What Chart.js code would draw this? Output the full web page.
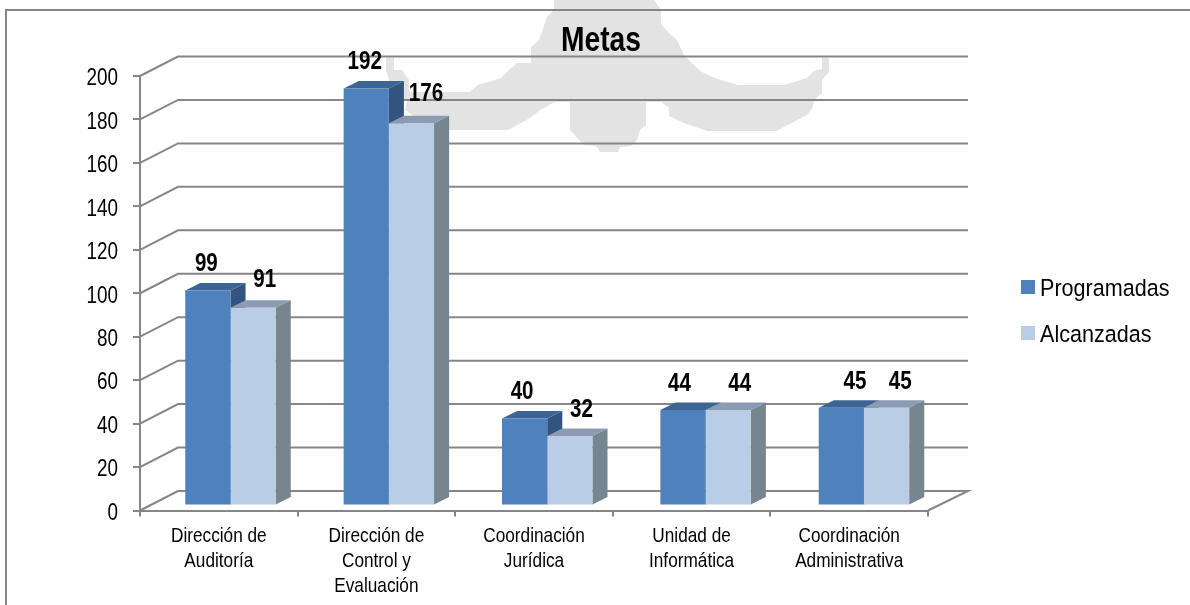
<!DOCTYPE html>
<html lang="es">
<head>
    <meta charset="UTF-8">
    <title>Metas</title>
    <script src="https://cdn.jsdelivr.net/npm/chart.js"></script>
    <style>
        html, body { margin: 0; padding: 0; background: #fff; overflow: hidden; }
        #watermark, #frame, #metasChart { position: absolute; left: 0; top: 0; }
        #frame { left: 5px; top: 9px; width: 1185px; height: 596px; border-top: 2px solid #868686; border-left: 2px solid #868686; box-sizing: border-box; }
    </style>
</head>
<body>
    <!-- faded emblem behind the chart -->
    <svg id="watermark" width="1190" height="605">
        <polygon fill="#e3e3e3" points="554,0 654,0 661,10 661,24 668,32 677,40 684,55 692,63 700,71 715,78 738,85 784,85 807,78 814,71 822,69 822,58 829,58 829,72 822,80 822,93 814,100 813,107 807,115 792,123 776,131 707,131 684,123 669,116 669,108 661,102 646,102 646,125 640,130 637,140 631,146 620,147 618,152 600,152 596,146 585,145 577,138 570,130 570,102 555,102 540,110 530,118 508,130 434,130 405,110 409,92 470,92 478,85 501,78 509,70 517,63 531,63 531,47 539,40 547,17 554,10"/>
        <polygon fill="#e3e3e3" points="386,58 394,58 394,70 402,70 409,80 409,100 395,100 386,70"/>
    </svg>
    <div id="frame"></div>
    <canvas id="metasChart" width="1190" height="605"></canvas>

    <script>
        const categories = [
            ['Dirección de', 'Auditoría'],
            ['Dirección de', 'Control y', 'Evaluación'],
            ['Coordinación', 'Jurídica'],
            ['Unidad de', 'Informática'],
            ['Coordinación', 'Administrativa']
        ];
        const programadas = [99, 192, 40, 44, 45];
        const alcanzadas = [91, 176, 32, 44, 45];

        // nudges of the value labels, from the picture
        const programadasLabelDx = [-1, -1, -2, -3, 14];
        const alcanzadasLabelDx = [12, 15, 12, 12, 14];
        const alcanzadasLabelDy = [-2, -3, 0, 0, 0];

        const sans = "'Liberation Sans', Arial, sans-serif";
        const textSqueeze = 0.82; // the reference text is a narrow Arial
        const legendSqueeze = 0.88;
        const gridColor = '#868686';
        const wallDepthLeft = 38, wallDepthRight = 40, wallRise = 19.5;
        const barDepth = 15, barRise = 7.5;
        const faceColors = [
            { top: '#3c6494', side: '#32547f' },
            { top: '#8a9bb3', side: '#77858f' }
        ];

        function squeezedText(ctx, text, x, y, squeeze = textSqueeze) {
            ctx.fillText(text, x, y, ctx.measureText(text).width * squeeze);
        }

        const fake3d = {
            id: 'fake3d',
            afterLayout(chart) {
                // title sits right of the plot centre in the picture
                chart.titleBlock.left = 561;
                chart.titleBlock.right = 641;
            },
            beforeDatasetsDraw(chart) {
                const { ctx, chartArea, scales } = chart;
                // back wall and side wall lines
                ctx.save();
                ctx.strokeStyle = gridColor;
                ctx.lineWidth = 2;
                scales.y.ticks.forEach(tick => {
                    const y = scales.y.getPixelForValue(tick.value);
                    ctx.beginPath();
                    ctx.moveTo(chartArea.left, y);
                    ctx.lineTo(chartArea.left + wallDepthLeft, y - wallRise);
                    ctx.lineTo(chartArea.right + wallDepthRight, y - wallRise);
                    if (tick.value === 0) ctx.lineTo(chartArea.right, y);
                    ctx.stroke();
                });
                ctx.restore();

                // bars stand a little inside the floor and drift right of the axis ticks
                ctx.save();
                ctx.transform(1.0049, 0, 0, 1, 10.6, -5);
                chart.data.datasets.forEach((ds, i) => {
                    chart.getDatasetMeta(i).data.forEach(bar => {
                        const left = bar.x - bar.width / 2;
                        const right = bar.x + bar.width / 2;
                        ctx.fillStyle = faceColors[i].side;
                        ctx.beginPath();
                        ctx.moveTo(right, bar.y);
                        ctx.lineTo(right + barDepth, bar.y - barRise);
                        ctx.lineTo(right + barDepth, bar.base - barRise);
                        ctx.lineTo(right, bar.base);
                        ctx.fill();
                        ctx.fillStyle = faceColors[i].top;
                        ctx.beginPath();
                        ctx.moveTo(left, bar.y);
                        ctx.lineTo(left + barDepth, bar.y - barRise);
                        ctx.lineTo(right + barDepth, bar.y - barRise);
                        ctx.lineTo(right, bar.y);
                        ctx.fill();
                    });
                });
            },
            afterDatasetsDraw(chart) {
                const { ctx, scales } = chart;
                // value labels, still inside the bar transform
                ctx.fillStyle = '#000';
                ctx.font = "bold 25px " + sans;
                ctx.textAlign = 'center';
                ctx.textBaseline = 'middle';
                const nudges = [programadasLabelDx, alcanzadasLabelDx];
                chart.data.datasets.forEach((ds, i) => {
                    chart.getDatasetMeta(i).data.forEach((bar, j) => {
                        const dy = i === 1 ? alcanzadasLabelDy[j] : 0;
                        squeezedText(ctx, String(ds.data[j]), bar.x + nudges[i][j] - 0.5, bar.y - 26 + dy);
                    });
                });
                ctx.restore();

                // axis labels, Chart.js tick labels cannot be condensed
                ctx.save();
                ctx.fillStyle = '#000';
                ctx.textBaseline = 'middle';
                ctx.font = "23px " + sans;
                ctx.textAlign = 'right';
                scales.y.ticks.forEach(tick => {
                    squeezedText(ctx, tick.label, 118, scales.y.getPixelForValue(tick.value) + 3);
                });
                ctx.font = "21px " + sans;
                ctx.textAlign = 'center';
                scales.x.ticks.forEach((tick, i) => {
                    const x = scales.x.getPixelForTick(i);
                    [].concat(tick.label).forEach((line, k) => {
                        squeezedText(ctx, line, x, 536.5 + k * 25);
                    });
                });

                // legend
                ctx.font = "24.5px " + sans;
                ctx.textAlign = 'left';
                chart.data.datasets.forEach((ds, i) => {
                    const y = 287 + i * 46;
                    ctx.fillStyle = ds.backgroundColor;
                    ctx.fillRect(1021, y - 7, 14, 14);
                    ctx.fillStyle = '#000';
                    squeezedText(ctx, ds.label, 1040, y + 2, legendSqueeze);
                });
                ctx.restore();
            }
        };

        new Chart(document.getElementById('metasChart'), {
            type: 'bar',
            data: {
                labels: categories,
                datasets: [
                    { label: 'Programadas', data: programadas, backgroundColor: '#4f81bd', clip: false },
                    { label: 'Alcanzadas', data: alcanzadas, backgroundColor: '#b9cde5', clip: false }
                ]
            },
            options: {
                responsive: false,
                animation: false,
                categoryPercentage: 0.571,
                barPercentage: 1,
                layout: { autoPadding: false, padding: { left: 0, right: 262, top: 0, bottom: 0 } },
                plugins: {
                    legend: { display: false },
                    tooltip: { enabled: false },
                    title: {
                        display: true,
                        text: 'Metas',
                        color: '#000',
                        font: { family: sans, size: 35, weight: 'bold', lineHeight: 1.2 },
                        padding: { top: 20, bottom: 14 }
                    }
                },
                scales: {
                    x: {
                        grid: { drawOnChartArea: false, color: gridColor, lineWidth: 2, tickLength: 6 },
                        border: { color: gridColor, width: 2 },
                        ticks: { display: false, autoSkip: false },
                        afterFit(scale) { scale.height = 94.5; }
                    },
                    y: {
                        min: 0,
                        max: 200,
                        grid: { drawOnChartArea: false, color: gridColor, lineWidth: 2, tickLength: 7 },
                        border: { color: gridColor, width: 2 },
                        ticks: { display: false, stepSize: 20 },
                        afterFit(scale) { scale.width = 140; }
                    }
                }
            },
            plugins: [fake3d]
        });
    </script>
</body>
</html>
